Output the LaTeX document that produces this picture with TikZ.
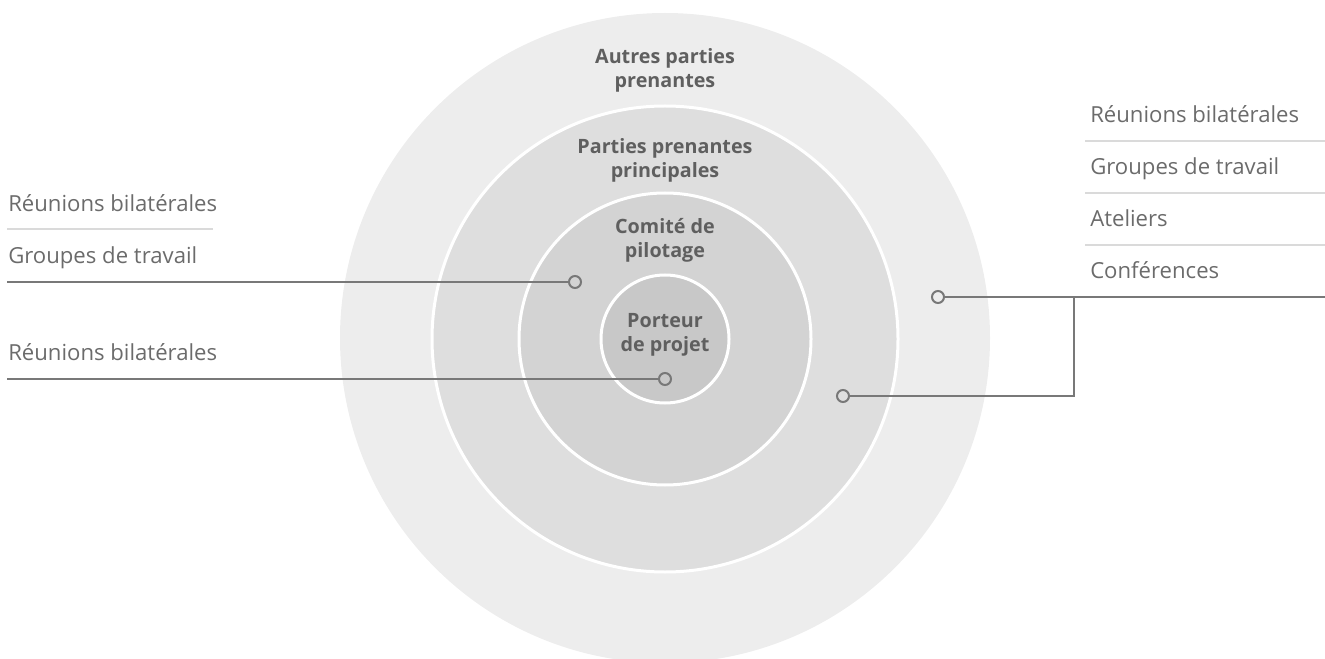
\documentclass[tikz,border=0pt]{standalone}
\usepackage{fontspec}
\setmainfont{Open Sans}
\definecolor{ringA}{HTML}{EDEDED}
\definecolor{ringB}{HTML}{DEDEDE}
\definecolor{ringC}{HTML}{D3D3D3}
\definecolor{ringD}{HTML}{C8C8C8}
\definecolor{labeltxt}{HTML}{5F5F5F}
\definecolor{itemtxt}{HTML}{6B6B6B}
\definecolor{conn}{HTML}{787878}
\definecolor{sepline}{HTML}{DADADA}
\tikzset{
  ring/.style={circle, inner sep=0pt, draw=white, line width=2.25pt},
  ringlabel/.style={align=center, inner sep=0pt, text=labeltxt, font=\fontsize{14.8}{18}\selectfont\bfseries},
  item/.style={anchor=base west, inner sep=0pt, text=itemtxt, font=\fontsize{16.6}{18}\selectfont},
  marker/.style={circle, draw=conn, line width=1.5pt, inner sep=0pt, minimum size=9pt},
  connector/.style={draw=conn, line width=1.5pt},
  separator/.style={draw=sepline, line width=0.9pt}
}
\begin{document}
\begin{tikzpicture}[x=0.75pt,y=-0.75pt]
\useasboundingbox (0,0) rectangle (1325,659);
\clip (0,0) rectangle (1325,659);
% rings
\node[ring, draw=none, fill=ringA, minimum size=487.5pt] (outer) at (665,338) {};
\node[ring, fill=ringB, minimum size=349.5pt] (main) at (665,339) {};
\node[ring, fill=ringC, minimum size=219pt] (comite) at (665,339) {};
\node[ring, fill=ringD, minimum size=96pt] (porteur) at (665,339) {};
% ring labels
\node[ringlabel] (lblA) at (665,70) {Autres parties\\prenantes};
\node[ringlabel] (lblB) at (665,160) {Parties prenantes\\principales};
\node[ringlabel] (lblC) at (665,240) {Comité de\\pilotage};
\node[ringlabel] (lblD) at (665,335) {Porteur\\de projet};
% left items
\node[item] (L1) at (8,212) {Réunions bilatérales};
\node[item] (L2) at (8,264) {Groupes de travail};
\node[item] (L3) at (8,361) {Réunions bilatérales};
\draw[separator] (7,229) -- (213,229);
% right items
\node[item] (R1) at (1090,123) {Réunions bilatérales};
\node[item] (R2) at (1090,175) {Groupes de travail};
\node[item] (R3) at (1090,227) {Ateliers};
\node[item] (R4) at (1090,279) {Conférences};
\draw[separator] (1085,141) -- (1325,141);
\draw[separator] (1085,193) -- (1325,193);
\draw[separator] (1085,245) -- (1325,245);
% markers
\node[marker] (m1) at (575,282) {};
\node[marker] (m2) at (665,379) {};
\node[marker] (m3) at (938,297) {};
\node[marker] (m4) at (843,396) {};
\coordinate (lA) at (7,282);
\coordinate (lB) at (7,379);
\coordinate (rA) at (1326,297);
\coordinate (jT) at (1074,297);
\coordinate (jB) at (1074,396);
% connectors
\draw[connector] (lA) -- (m1);
\draw[connector] (lB) -- (m2);
\draw[connector] (m3) -- (rA);
\draw[connector] (m4) -- (jB) -- (jT);
\end{tikzpicture}
\end{document}
